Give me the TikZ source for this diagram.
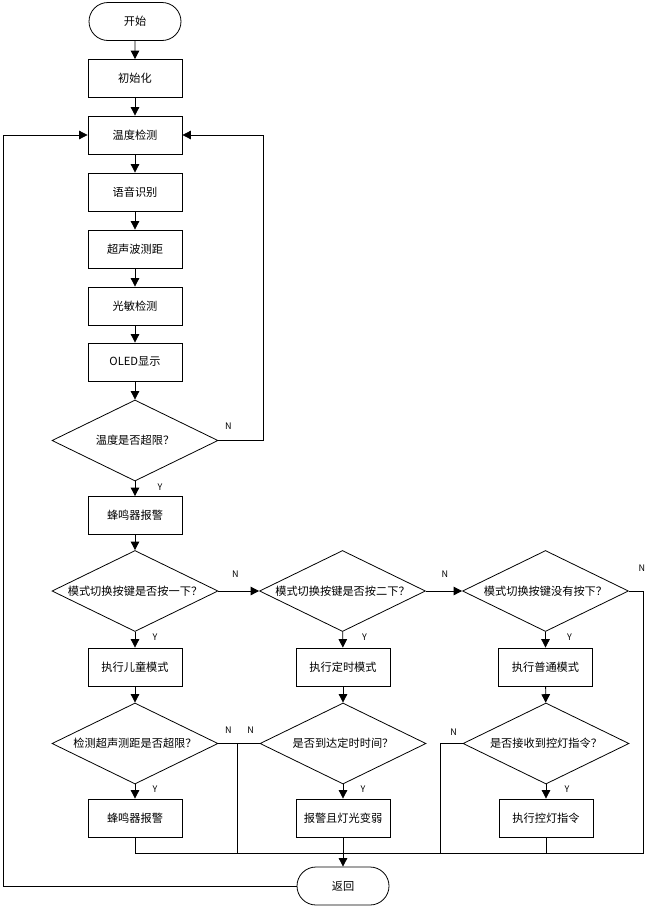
\documentclass[tikz,border=0pt]{standalone}
\usepackage{fontspec}
\setmainfont{Noto Sans CJK SC}
\usepackage{tikz}
\usetikzlibrary{calc}
\usetikzlibrary{arrows.meta,shapes.geometric,shapes.misc}

\begin{document}
\begin{tikzpicture}[x=1pt, y=-1pt,
    line width=0.8pt,
    box/.style={draw, rectangle, minimum width=94pt, minimum height=38pt, inner sep=1pt, font=\fontsize{11.2}{13}\selectfont},
    term/.style={draw, rounded rectangle, minimum width=94pt, minimum height=38pt, inner sep=1pt, font=\fontsize{11.2}{13}\selectfont},
    decide/.style={draw, diamond, aspect=2.05, minimum width=166pt, minimum height=81pt, inner sep=0pt, font=\fontsize{11.2}{13}\selectfont},
    arr/.style={-{Triangle[length=8.5pt,width=8.5pt]}},
    lbl/.style={font=\fontsize{9}{10}\selectfont, inner sep=0pt}]
        \useasboundingbox (0,0) rectangle (652,913);
        %LAJUR KIRI
        \node[term] (start) at (135,21.5) {开始};
        \node[box] (init) at (135,78.5) {初始化};
        \node[box] (temp) at (135,135) {温度检测};
        \node[box] (voice) at (135,192) {语音识别};
        \node[box] (ultra) at (135,249) {超声波测距};
        \node[box] (light) at (135,306) {光敏检测};
        \node[box] (oled) at (135,362) {OLED显示};
        \node[decide] (dtemp) at (135,440.5) {温度是否超限？};
        \node[box] (buzz) at (135,515.5) {蜂鸣器报警};
        %BARIS MODE
        \node[decide] (dmodeone) at (135,591) {模式切换按键是否按一下？};
        \node[decide] (dmodetwo) at (342.5,591) {模式切换按键是否按二下？};
        \node[decide] (dmodenone) at (545.5,591) {模式切换按键没有按下？};
        \node[box] (child) at (135,667) {执行儿童模式};
        \node[box] (timer) at (343,667) {执行定时模式};
        \node[box] (normal) at (545.5,667) {执行普通模式};
        \node[decide] (ddist) at (135,743.5) {检测超声测距是否超限？};
        \node[decide] (dtime) at (343,743.5) {是否到达定时时间？};
        \node[decide] (dcmd) at (546,743.5) {是否接收到控灯指令？};
        \node[box] (buzztwo) at (135,818) {蜂鸣器报警};
        \node[box] (warn) at (343,818) {报警且灯光变弱};
        \node[box] (exec) at (546,818) {执行控灯指令};
        \node[term] (ret) at (343,886) {返回};
        %TITIK BANTU
        \coordinate (busleft) at (135,853);
        \coordinate (busright) at (643,853);
        %PANAH UTAMA
        \draw[arr] (start) -- (init);
        \draw[arr] (init) -- (temp);
        \draw[arr] (temp) -- (voice);
        \draw[arr] (voice) -- (ultra);
        \draw[arr] (ultra) -- (light);
        \draw[arr] (light) -- (oled);
        \draw[arr] (oled) -- (dtemp);
        \draw[arr] (dtemp) -- (buzz);
        \draw[arr] (buzz) -- (dmodeone);
        \draw[arr] (dmodeone) -- (dmodetwo);
        \draw[arr] (dmodetwo) -- (dmodenone);
        \draw[arr] (dmodeone) -- (child);
        \draw[arr] (dmodetwo) -- (timer);
        \draw[arr] (dmodenone) -- (normal);
        \draw[arr] (child) -- (ddist);
        \draw[arr] (timer) -- (dtime);
        \draw[arr] (normal) -- (dcmd);
        \draw[arr] (ddist) -- (buzztwo);
        \draw[arr] (dtime) -- (warn);
        \draw[arr] (dcmd) -- (exec);
        \draw[arr] (warn) -- (ret);
        %LOOP
        \draw[arr] (dtemp.east) -- (263,440.5) |- (temp.east);
        \draw[arr] (ret.west) -- (3,886) |- (temp.west);
        %GARIS KE BAWAH
        \draw (buzztwo.south) -- (busleft) -- (busright) |- (dmodenone.east);
        \draw (ddist.east) -- (dtime.west);
        \draw (237,743.5) -- (237,853);
        \draw (dcmd.west) -- (440,743.5) -- (440,853);
        \draw (exec.south) -- (546,853);
        %LABEL Y / N
        \node[lbl] at ([shift={(25,6)}]dtemp.south) {Y};
        \node[lbl] at ([shift={(20,5)}]dmodeone.south) {Y};
        \node[lbl] at ([shift={(22,5)}]dmodetwo.south) {Y};
        \node[lbl] at ([shift={(24,5)}]dmodenone.south) {Y};
        \node[lbl] at ([shift={(20,5)}]ddist.south) {Y};
        \node[lbl] at ([shift={(20,5)}]dtime.south) {Y};
        \node[lbl] at ([shift={(21,5)}]dcmd.south) {Y};
        \node[lbl] at ([shift={(10,-14)}]dtemp.east) {N};
        \node[lbl] at ([shift={(17,-17)}]dmodeone.east) {N};
        \node[lbl] at ([shift={(19,-17)}]dmodetwo.east) {N};
        \node[lbl] at ([shift={(13,-23)}]dmodenone.east) {N};
        \node[lbl] at ([shift={(10,-13.5)}]ddist.east) {N};
        \node[lbl] at ([shift={(-9,-13.5)}]dtime.west) {N};
        \node[lbl] at ([shift={(-9,-11)}]dcmd.west) {N};
\end{tikzpicture}
\end{document}
